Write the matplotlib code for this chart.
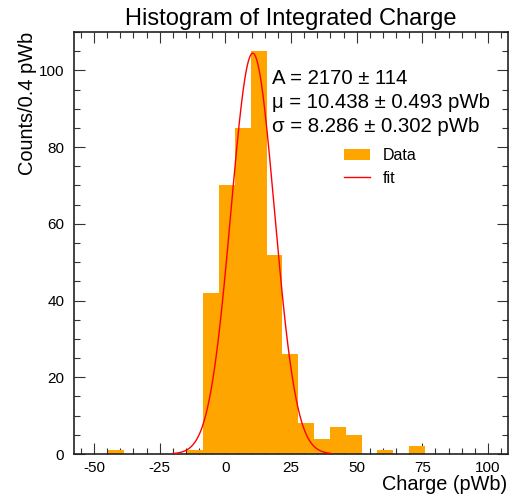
import numpy as np
import matplotlib
matplotlib.use("Agg")
import matplotlib.pyplot as plt
from matplotlib.ticker import MultipleLocator

plt.rcParams['font.family'] = ['Liberation Sans', 'DejaVu Sans']
plt.rcParams['axes.unicode_minus'] = False

# Histogram data
bin_start = -44.6
bin_width = 6.03
counts = [1, 0, 0, 0, 0, 1, 42, 70, 85, 105, 52, 26, 8, 4, 7, 5, 0, 1, 0, 2]

# Fit parameters
fit_A = 2170
fit_A_err = 114
fit_mu = 10.438
fit_mu_err = 0.493
fit_sigma = 8.286
fit_sigma_err = 0.302

edges = bin_start + bin_width * np.arange(len(counts) + 1)

fig = plt.figure(figsize=(5.10, 4.95), dpi=100)
ax = fig.add_axes([74/510, 1 - 454/495, (508-74)/510, (454-32)/495])

ax.stairs(counts, edges, fill=True, color='#FFA500', label='Data', zorder=2)

xs = np.linspace(-20, 40, 600)
ys = fit_A / (fit_sigma * np.sqrt(2 * np.pi)) * np.exp(-(xs - fit_mu) ** 2 / (2 * fit_sigma ** 2))
ax.plot(xs, ys, color='red', lw=1.0, label='fit', zorder=3)

ax.set_xlim(-57.6, 107.6)
ax.set_ylim(0, 110)
ax.xaxis.set_major_locator(MultipleLocator(25))
ax.xaxis.set_minor_locator(MultipleLocator(5))
ax.yaxis.set_major_locator(MultipleLocator(20))
ax.yaxis.set_minor_locator(MultipleLocator(5))
ax.tick_params(which='both', direction='in', top=True, right=True, labelsize=11, width=0.8, color='#333333')
ax.tick_params(which='major', length=8)
ax.tick_params(which='minor', length=4)
ax.tick_params(axis='y', pad=7)
ax.tick_params(axis='x', pad=5)
for s in ax.spines.values():
    s.set_linewidth(1.2)
    s.set_color('#222222')

fig.text(291/510, 1 - 19/495, 'Histogram of Integrated Charge', ha='center', va='center', fontsize=17)
fig.text(28/510, 1 - 103/495, 'Counts/0.4 pWb', rotation=90, ha='center', va='center', fontsize=14.4)
fig.text(507/510, 1 - 485/495, 'Charge (pWb)', ha='right', va='center', fontsize=14.3)

stats = [
    f'A = {fit_A} ± {fit_A_err}',
    f'μ = {fit_mu:.3f} ± {fit_mu_err:.3f} pWb',
    f'σ = {fit_sigma:.3f} ± {fit_sigma_err:.3f} pWb',
]
for i, line in enumerate(stats):
    fig.text(272/510, 1 - (79 + 23.5 * i)/495, line, ha='left', va='center', fontsize=14.7)

leg = ax.legend(loc='upper left', bbox_to_anchor=((330-74)/434, 1 - (134-32)/422),
                frameon=False, fontsize=11.5, handlelength=1.6, handletextpad=0.8, labelspacing=0.45)

fig.savefig('out.png', dpi=100)
